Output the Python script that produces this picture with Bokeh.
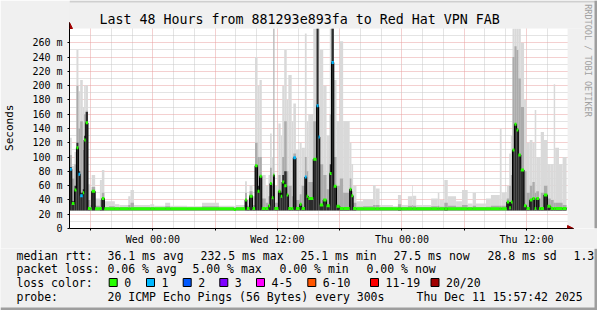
import pandas as pd
from math import pi
from bokeh.plotting import figure
from bokeh.layouts import column
from bokeh.models import (ColumnDataSource, FixedTicker, CustomJSTickFormatter, Arrow, NormalHead, Range1d)
from bokeh.core.properties import value
from bokeh.embed import file_html
from bokeh.resources import INLINE

# ---------------- data ----------------
START = pd.Timestamp("2025-12-09 15:57:42")
END = pd.Timestamp("2025-12-11 15:57:42")

# start of each sample (hours after START); last sample ends at t_last_end
hours = [0.00, 0.22, 0.48, 0.67, 0.86, 1.03, 1.28, 1.41, 1.56, 1.78, 2.02, 2.14, 2.47, 2.93, 3.12, 3.36,
         3.81, 4.37, 4.80, 5.66, 5.88, 6.21, 7.78, 8.16, 9.22, 9.70, 11.33, 12.77, 14.40, 15.84, 16.03,
         16.92, 17.09, 17.35, 17.64, 17.88, 18.12, 18.31, 18.53, 18.91, 19.17,
         19.32, 19.49, 19.65, 19.74, 20.13, 20.35, 20.50, 20.69, 20.93, 21.09,
         21.41, 21.57, 21.82, 22.18, 22.37, 22.68, 22.85, 23.01, 23.49, 23.81,
         24.00, 24.12, 24.45, 24.77, 25.08, 25.25, 25.47, 25.73, 26.05, 26.37,
         27.00, 27.17, 27.33,
         27.65, 28.29, 29.25, 29.50, 29.88, 31.17, 31.65, 31.97, 32.61, 33.02,
         33.09, 33.41, 34.85, 35.49, 35.64, 36.12, 36.45, 37.25, 37.82, 38.37,
         38.85, 39.17,
         40.13, 40.61, 41.47, 41.64, 42.14, 42.37, 42.53, 42.69, 42.88, 43.08,
         43.25, 43.49, 43.80, 44.04, 44.35, 44.61, 44.83, 44.98, 45.24, 45.41,
         45.72, 46.05, 46.37, 46.66, 46.80, 47.17, 47.52]
t_last_end = 47.90

median_ms = [83, 35, 54, 113, 76, 46, 50, 124, 148, 28, 27.5, 52, 27.5, 28, 42, 27.5,
             27.5, 27.5, 27.5, 27.5, 27.5, 27.5, 27.5, 27.5, 27.5, 27.5, 27.5, 27.5, 27.5, 26.5, 27.5,
             40, 28, 45, 28, 88, 52, 73, 28, 28, 32,
             63, 43, 75, 28, 52, 45, 65, 60, 47, 28,
             28, 99, 28, 34, 28, 72, 45, 42, 97, 172,
             128, 33, 40, 32, 77, 232.5, 59, 31, 28, 28,
             55, 46, 28,
             27.5, 27.5, 27.5, 27.5, 27.5, 27.5, 27.5, 27.5, 27.5, 27.5,
             27.5, 27.5, 27.5, 27.5, 27.5, 27.5, 27.5, 27.5, 27.5, 27.5,
             27.5, 27.5,
             27.5, 27.5, 27.5, 27.5, 37, 29, 37, 110, 146, 138,
             103, 82, 32, 28, 40, 42, 28, 42, 28, 28,
             47, 31, 28, 28, 28, 28, 28]

lost_pings = [1, 0, 0, 0, 1, 1, 0, 0, 0, 0, 0, 0, 0, 0, 0, 0,
              0, 0, 0, 0, 0, 0, 0, 0, 0, 0, 0, 0, 0, 0, 0,
              0, 0, 0, 0, 0, 0, 0, 0, 0, 0,
              0, 0, 0, 0, 0, 0, 0, 0, 0, 0,
              0, 1, 0, 0, 0, 1, 0, 0, 0, 1,
              1, 0, 0, 0, 0, 1, 0, 0, 0, 0,
              0, 0, 0,
              0, 0, 0, 0, 0, 0, 0, 0, 0, 0,
              0, 0, 0, 0, 0, 0, 0, 0, 0, 0,
              0, 0,
              0, 0, 0, 0, 0, 0, 0, 0, 0, 0,
              0, 0, 0, 0, 0, 0, 0, 0, 0, 0,
              0, 0, 0, 0, 0, 0, 0]

smoke_dark_top = [86, 38, 60, 120, 80, 50, 55, 130, 163, 28, 25, 52, 25, 30, 42, 25,
                  25, 25, 25, 25, 25, 25, 25, 25, 25, 25, 25, 25, 25, 25, 25,
                  40, 28, 47, 28, 88, 60, 73, 28, 28, 32,
                  63, 43, 75, 28, 52, 50, 75, 80, 47, 28,
                  28, 99, 28, 34, 28, 72, 45, 42, 97, 280,
                  128, 33, 40, 32, 90, 280, 59, 31, 28, 28,
                  55, 46, 28,
                  25, 25, 25, 25, 25, 25, 29, 25, 25, 25,
                  25, 25, 25, 25, 25, 29, 25, 25, 25, 25,
                  25, 25,
                  25, 25, 25, 25, 37, 37, 37, 110, 146, 140,
                  103, 82, 32, 28, 40, 42, 28, 42, 28, 28,
                  47, 31, 28, 28, 28, 28, 28]

smoke_mid_top = [103, 70, 90, 200, 140, 150, 110, 160, 165, 40, 33, 58, 32, 40, 50, 30,
                 31, 30, 30, 33, 36, 30, 30, 29.5, 31, 29.5, 29.5, 31, 29.5, 29.5, 30,
                 50, 32, 52, 33, 120, 100, 100, 42, 36, 45,
                 85, 60, 280, 36, 75, 65, 100, 150, 80, 60,
                 45, 105, 40, 48, 60, 100, 80, 65, 150, 280,
                 170, 90, 75, 55, 160, 280, 100, 60, 70, 50,
                 70, 52, 36,
                 30.5, 31, 33, 33, 30, 29.5, 34, 30, 32, 33,
                 32, 30, 31, 32, 30.5, 36, 32, 30.5, 33, 30,
                 32, 30,
                 30.5, 32, 32, 32, 42, 60, 75, 240, 255, 250,
                 210, 170, 80, 50, 60, 65, 50, 52, 42, 50,
                 60, 42, 40, 36, 36, 36, 33]

smoke_light_top = [127, 88, 107, 250, 192, 208, 170, 200, 201, 62, 45, 75, 42, 68, 82, 38,
                   38, 34, 33, 45, 54, 33, 34, 32, 36, 32, 31, 36, 32, 31, 33,
                   66, 40, 61, 45, 240, 200, 208, 75, 60, 75,
                   133, 100, 280, 60, 147, 130, 200, 250, 180, 215,
                   150, 175, 110, 120, 113, 273, 150, 160, 280, 280,
                   280, 250, 200, 130, 280, 280, 208, 150, 262, 150,
                   120, 90, 60,
                   38, 41, 61, 56, 33, 31, 47, 33, 45, 61,
                   46, 33, 42, 50, 40, 68, 45, 38, 54, 35,
                   50, 35,
                   42, 47, 140, 50, 60, 105, 130, 280, 280, 280,
                   280, 260, 180, 120, 124, 120, 166, 100, 100, 135,
                   124, 90, 90, 202, 113, 90, 100]

smoke_floor = 25.1

loss_labels = ["0", "1", "2", "3", "4-5", "6-10", "11-19", "20/20"]
loss_colors = ["#26ff00", "#00b8ff", "#0059ff", "#7e00ff", "#ff00ff", "#ff5500", "#ff0000", "#a00000"]

y_ticks = [0, 20, 40, 60, 80, 100, 120, 140, 160, 180, 200, 220, 240, 260]
y_minor = [10, 30, 50, 70, 90, 110, 130, 150, 170, 190, 210, 230, 250, 270]
y_top = 280

title_text = "Last 48 Hours from 881293e893fa to Red Hat VPN FAB"
stats_rtt = ["median rtt:", "36.1 ms avg", "232.5 ms max", "25.1 ms min", "27.5 ms now", "28.8 ms sd", "1.3"]
stats_loss = ["packet loss:", "0.06 % avg", "5.00 % max", "0.00 % min", "0.00 % now"]
probe_text = ["probe:", "20 ICMP Echo Pings (56 Bytes) every 300s", "Thu Dec 11 15:57:42 2025"]

# ---------------- layout constants (pixels) ----------------
W, H = 597, 310
PL, PR_ = 67, 567          # plot area left / right
PT, PB = 28, 228           # plot area top / bottom
MAIN_H = 248
PX_PER_H = (PR_ - PL) / 48.0
MS_PER_PX = y_top / (PB - PT)
BG = "#f0f0f0"
MONO = "DejaVu Sans Mono"

def cx(px):
    return START + pd.Timedelta(hours=(px - PL) / PX_PER_H)

def cy(py):
    return (PB - py) * MS_PER_PX

# ---------------- main figure ----------------
left = [START + pd.Timedelta(hours=h) for h in hours]
right = left[1:] + [START + pd.Timedelta(hours=t_last_end)]
colors = [loss_colors[k] for k in lost_pings]

src = ColumnDataSource(dict(left=left, right=right, med=median_ms, dk=smoke_dark_top,
                            mh=smoke_mid_top, hi=smoke_light_top,
                            lo=[smoke_floor] * len(hours), col=colors))

p = figure(width=W, height=MAIN_H, x_axis_type="datetime",
           x_range=Range1d(cx(PL), cx(W)), y_range=Range1d(0, cy(0)),
           output_backend="svg", toolbar_location=None, frame_align=False,
           min_border_left=PL, min_border_right=0, min_border_top=0, min_border_bottom=MAIN_H - PB)
p.border_fill_color = BG
p.background_fill_color = "#ffffff"
p.outline_line_color = None

tk6 = pd.date_range("2025-12-09 18:00", "2025-12-11 12:00", freq="6h")
tk2 = [t for t in pd.date_range("2025-12-09 16:00", "2025-12-11 14:00", freq="2h") if t.hour % 6 != 0]
to_ms = lambda ts: [(t - pd.Timestamp("1970-01-01")).total_seconds() * 1000.0 for t in ts]
xt = FixedTicker(ticks=to_ms(tk6), minor_ticks=to_ms(tk2))
p.xaxis.ticker = xt
p.xgrid.ticker = xt
p.xaxis.formatter = CustomJSTickFormatter(code="""
const d = new Date(tick);
const h = d.getUTCHours();
if (h % 12 != 0) return "";
const days = ["Sun","Mon","Tue","Wed","Thu","Fri","Sat"];
return days[d.getUTCDay()] + " " + String(h).padStart(2, "0") + ":00";
""")
yt = FixedTicker(ticks=y_ticks, minor_ticks=y_minor)
p.yaxis.ticker = yt
p.ygrid.ticker = yt
p.yaxis.formatter = CustomJSTickFormatter(code="return tick == 0 ? '0' : tick + ' m';")

for g in (p.xgrid, p.ygrid):
    g.grid_line_color = "#e8a0a0"
    g.grid_line_dash = "1 1"
    g.grid_line_width = 1
    g.minor_grid_line_color = "#c8c8c8"
    g.minor_grid_line_dash = "1 1"

for ax in (p.xaxis, p.yaxis):
    ax.axis_line_color = "#000000"
    ax.major_tick_line_color = "#000000"
    ax.major_label_text_font = MONO
    ax.major_label_text_font_size = "10px"
    ax.major_label_text_color = "#000000"
    ax.major_tick_out = 2
    ax.major_tick_in = 0
    ax.minor_tick_out = 0
    ax.minor_tick_in = 0
p.xaxis.major_label_standoff = 3
p.yaxis.major_label_standoff = 5
p.xaxis.bounds = (cx(PL), cx(PR_ + 5.5))
p.yaxis.bounds = (0, cy(PT - 6))
# trailing no-break spaces move the centred, rotated label down to where the reference has it
p.yaxis.axis_label = "Seconds\u00a0\u00a0\u00a0\u00a0"
p.yaxis.axis_label_text_font = MONO
p.yaxis.axis_label_text_font_size = "11px"
p.yaxis.axis_label_text_font_style = "normal"
p.yaxis.axis_label_text_color = "#000000"
p.yaxis.axis_label_standoff = 13

# smoke
p.quad(left="left", right="right", bottom="lo", top="hi", source=src, fill_color="#d9d9d9", line_color=None)
p.quad(left="left", right="right", bottom="lo", top="mh", source=src, fill_color="#ababab", line_color=None)
p.quad(left="left", right="right", bottom="lo", top="dk", source=src, fill_color="#2c2c2c", line_color=None)
# median
p.step(x=left + [right[-1]], y=median_ms + [median_ms[-1]], mode="after", line_color="#000000", line_width=1)
p.segment(x0="left", y0="med", x1="right", y1="med", source=src, line_color="col", line_width=3)

# page background outside the plot area (top strip and right strip) + page border
p.quad(left=[cx(PL), cx(PR_)], right=[cx(W), cx(W)], bottom=[y_top, 0], top=[cy(0), y_top],
       fill_color=BG, line_color=None)
p.quad(left=[cx(PL), cx(W - 3)], right=[cx(W), cx(W)], bottom=[cy(2), 0], top=[cy(0), cy(0)],
       fill_color=["#cfcfcf", "#9e9e9e"], line_color=None)

# text in the page area
p.text(x=[cx(298)], y=[cy(19)], text=[title_text], text_font=value(MONO), text_font_size="13.3px",
       text_align="center", text_baseline="middle", text_color="#000000")
p.text(x=[cx(587)], y=[cy(60)], text=["RRDTOOL / TOBI OETIKER"], text_font=value(MONO),
       text_font_size="8.5px", text_align="center", text_baseline="middle", text_color="#a0a0a0",
       angle=-pi / 2)

# axis arrows
p.add_layout(Arrow(end=NormalHead(size=6, fill_color="#a00000", line_color="#a00000"),
                   x_start=cx(PL), y_start=cy(PT), x_end=cx(PL), y_end=cy(PT - 6),
                   line_color="#000000", line_width=1))
p.add_layout(Arrow(end=NormalHead(size=6, fill_color="#a00000", line_color="#a00000"),
                   x_start=cx(PR_), y_start=0, x_end=cx(PR_ + 6), y_end=0,
                   line_color="#000000", line_width=1))

# ---------------- legend strip (pixel coordinates) ----------------
lg = figure(width=W, height=H - MAIN_H, x_range=Range1d(0, W), y_range=Range1d(H, MAIN_H),
            output_backend="svg", toolbar_location=None, min_border=0, frame_align=False,
            min_border_left=0, min_border_right=0, min_border_top=0, min_border_bottom=0,
            x_axis_location=None, y_axis_location=None)
lg.border_fill_color = BG
lg.background_fill_color = BG
lg.outline_line_color = None
lg.grid.visible = False

tx, ty, tt = [], [], []
for s, x in zip(stats_rtt, [16, 107, 200, 300, 393, 487, 573]):
    tx.append(x); ty.append(255); tt.append(s)
for s, x in zip(stats_loss, [16, 107, 192, 279, 366]):
    tx.append(x); ty.append(268.5); tt.append(s)
tx.append(16); ty.append(282); tt.append("loss color:")
box_x = [108.7, 146, 182.7, 219.3, 256, 307.3, 370, 430.5]
for lab, x in zip(loss_labels, box_x):
    tx.append(x + 15); ty.append(282); tt.append(lab)
for s, x in zip(probe_text, [16, 107, 416]):
    tx.append(x); ty.append(296); tt.append(s)
lg.text(x=tx, y=ty, text=tt, text_font=value(MONO), text_font_size="11.5px",
        text_align="left", text_baseline="middle", text_color="#000000")
lg.quad(left=box_x, right=[b + 8 for b in box_x], top=[278] * len(box_x), bottom=[286] * len(box_x),
        fill_color=loss_colors, line_color="#000000", line_width=1)
# page border (right and bottom)
lg.quad(left=[W - 3, 0], right=[W, W], top=[MAIN_H, H - 3], bottom=[H, H],
        fill_color="#9e9e9e", line_color=None)

layout = column(p, lg, spacing=0)
open("out.html", "w").write(file_html(layout, INLINE))
